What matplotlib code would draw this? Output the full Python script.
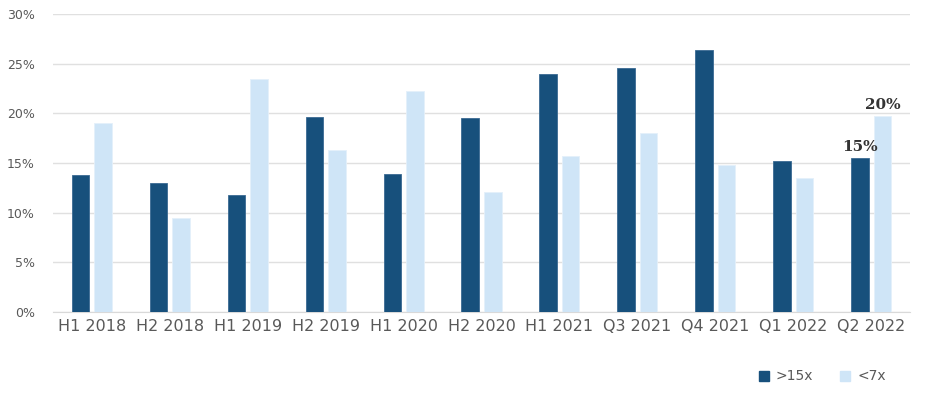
import matplotlib.pyplot as plt
from matplotlib.patches import Patch
from matplotlib.ticker import PercentFormatter
import numpy as np

periods = ['H1 2018', 'H2 2018', 'H1 2019', 'H2 2019', 'H1 2020', 'H2 2020',
           'H1 2021', 'Q3 2021', 'Q4 2021', 'Q1 2022', 'Q2 2022']
above_15x = [13.8, 13.0, 11.8, 19.6, 13.9, 19.5, 24.0, 24.6, 26.4, 15.2, 15.5]
below_7x = [19.0, 9.5, 23.5, 16.3, 22.2, 12.1, 15.7, 18.0, 14.8, 13.5, 19.7]
series_names = ['>15x', '<7x']

dark = '#17507c'
light = '#cfe5f7'
grey = '#595959'

fig = plt.figure(figsize=(9.28, 3.96), dpi=100)
ax = fig.add_axes([53 / 928, 1 - 312 / 396, (910 - 53) / 928, (312 - 14) / 396])

x = np.arange(len(periods))
w = 0.225
off = 0.145
ax.bar(x - off, above_15x, w, color=dark, edgecolor='#3a6a92', linewidth=0.6, zorder=3)
ax.bar(x + off, below_7x, w, color=light, edgecolor='#e4f0fa', linewidth=0.6, zorder=3)

# labels on the latest period only
ax.text(x[-1] - off, above_15x[-1] + 0.4, '15%', ha='center', va='bottom',
        family='DejaVu Serif', fontweight='bold', fontsize=11, color='#333333')
ax.text(x[-1] + off, below_7x[-1] + 0.4, '20%', ha='center', va='bottom',
        family='DejaVu Serif', fontweight='bold', fontsize=11, color='#333333')

ax.set_xlim(-0.5, len(periods) - 0.5)
ax.set_ylim(0, 30)
ax.set_yticks(range(0, 31, 5))
ax.yaxis.set_major_formatter(PercentFormatter(decimals=0))
ax.set_xticks(x)
ax.set_xticklabels(periods)
ax.grid(axis='y', color='#e0e0e0', linewidth=1, zorder=0)
for s in ['top', 'right', 'left']:
    ax.spines[s].set_visible(False)
ax.spines['bottom'].set_color('#d9d9d9')
ax.tick_params(axis='y', length=0, labelsize=9, labelcolor=grey, pad=13)
ax.tick_params(axis='x', length=0, labelsize=11.5, labelcolor=grey, pad=5)

handles = [Patch(color=dark), Patch(color=light)]
fig.legend(handles, series_names, loc='lower right', bbox_to_anchor=(0.968, 0.0),
           ncol=2, frameon=False, fontsize=10, labelcolor=grey,
           handlelength=0.75, handleheight=0.75, columnspacing=1.9, handletextpad=0.5)

fig.savefig('out.png', dpi=100)
